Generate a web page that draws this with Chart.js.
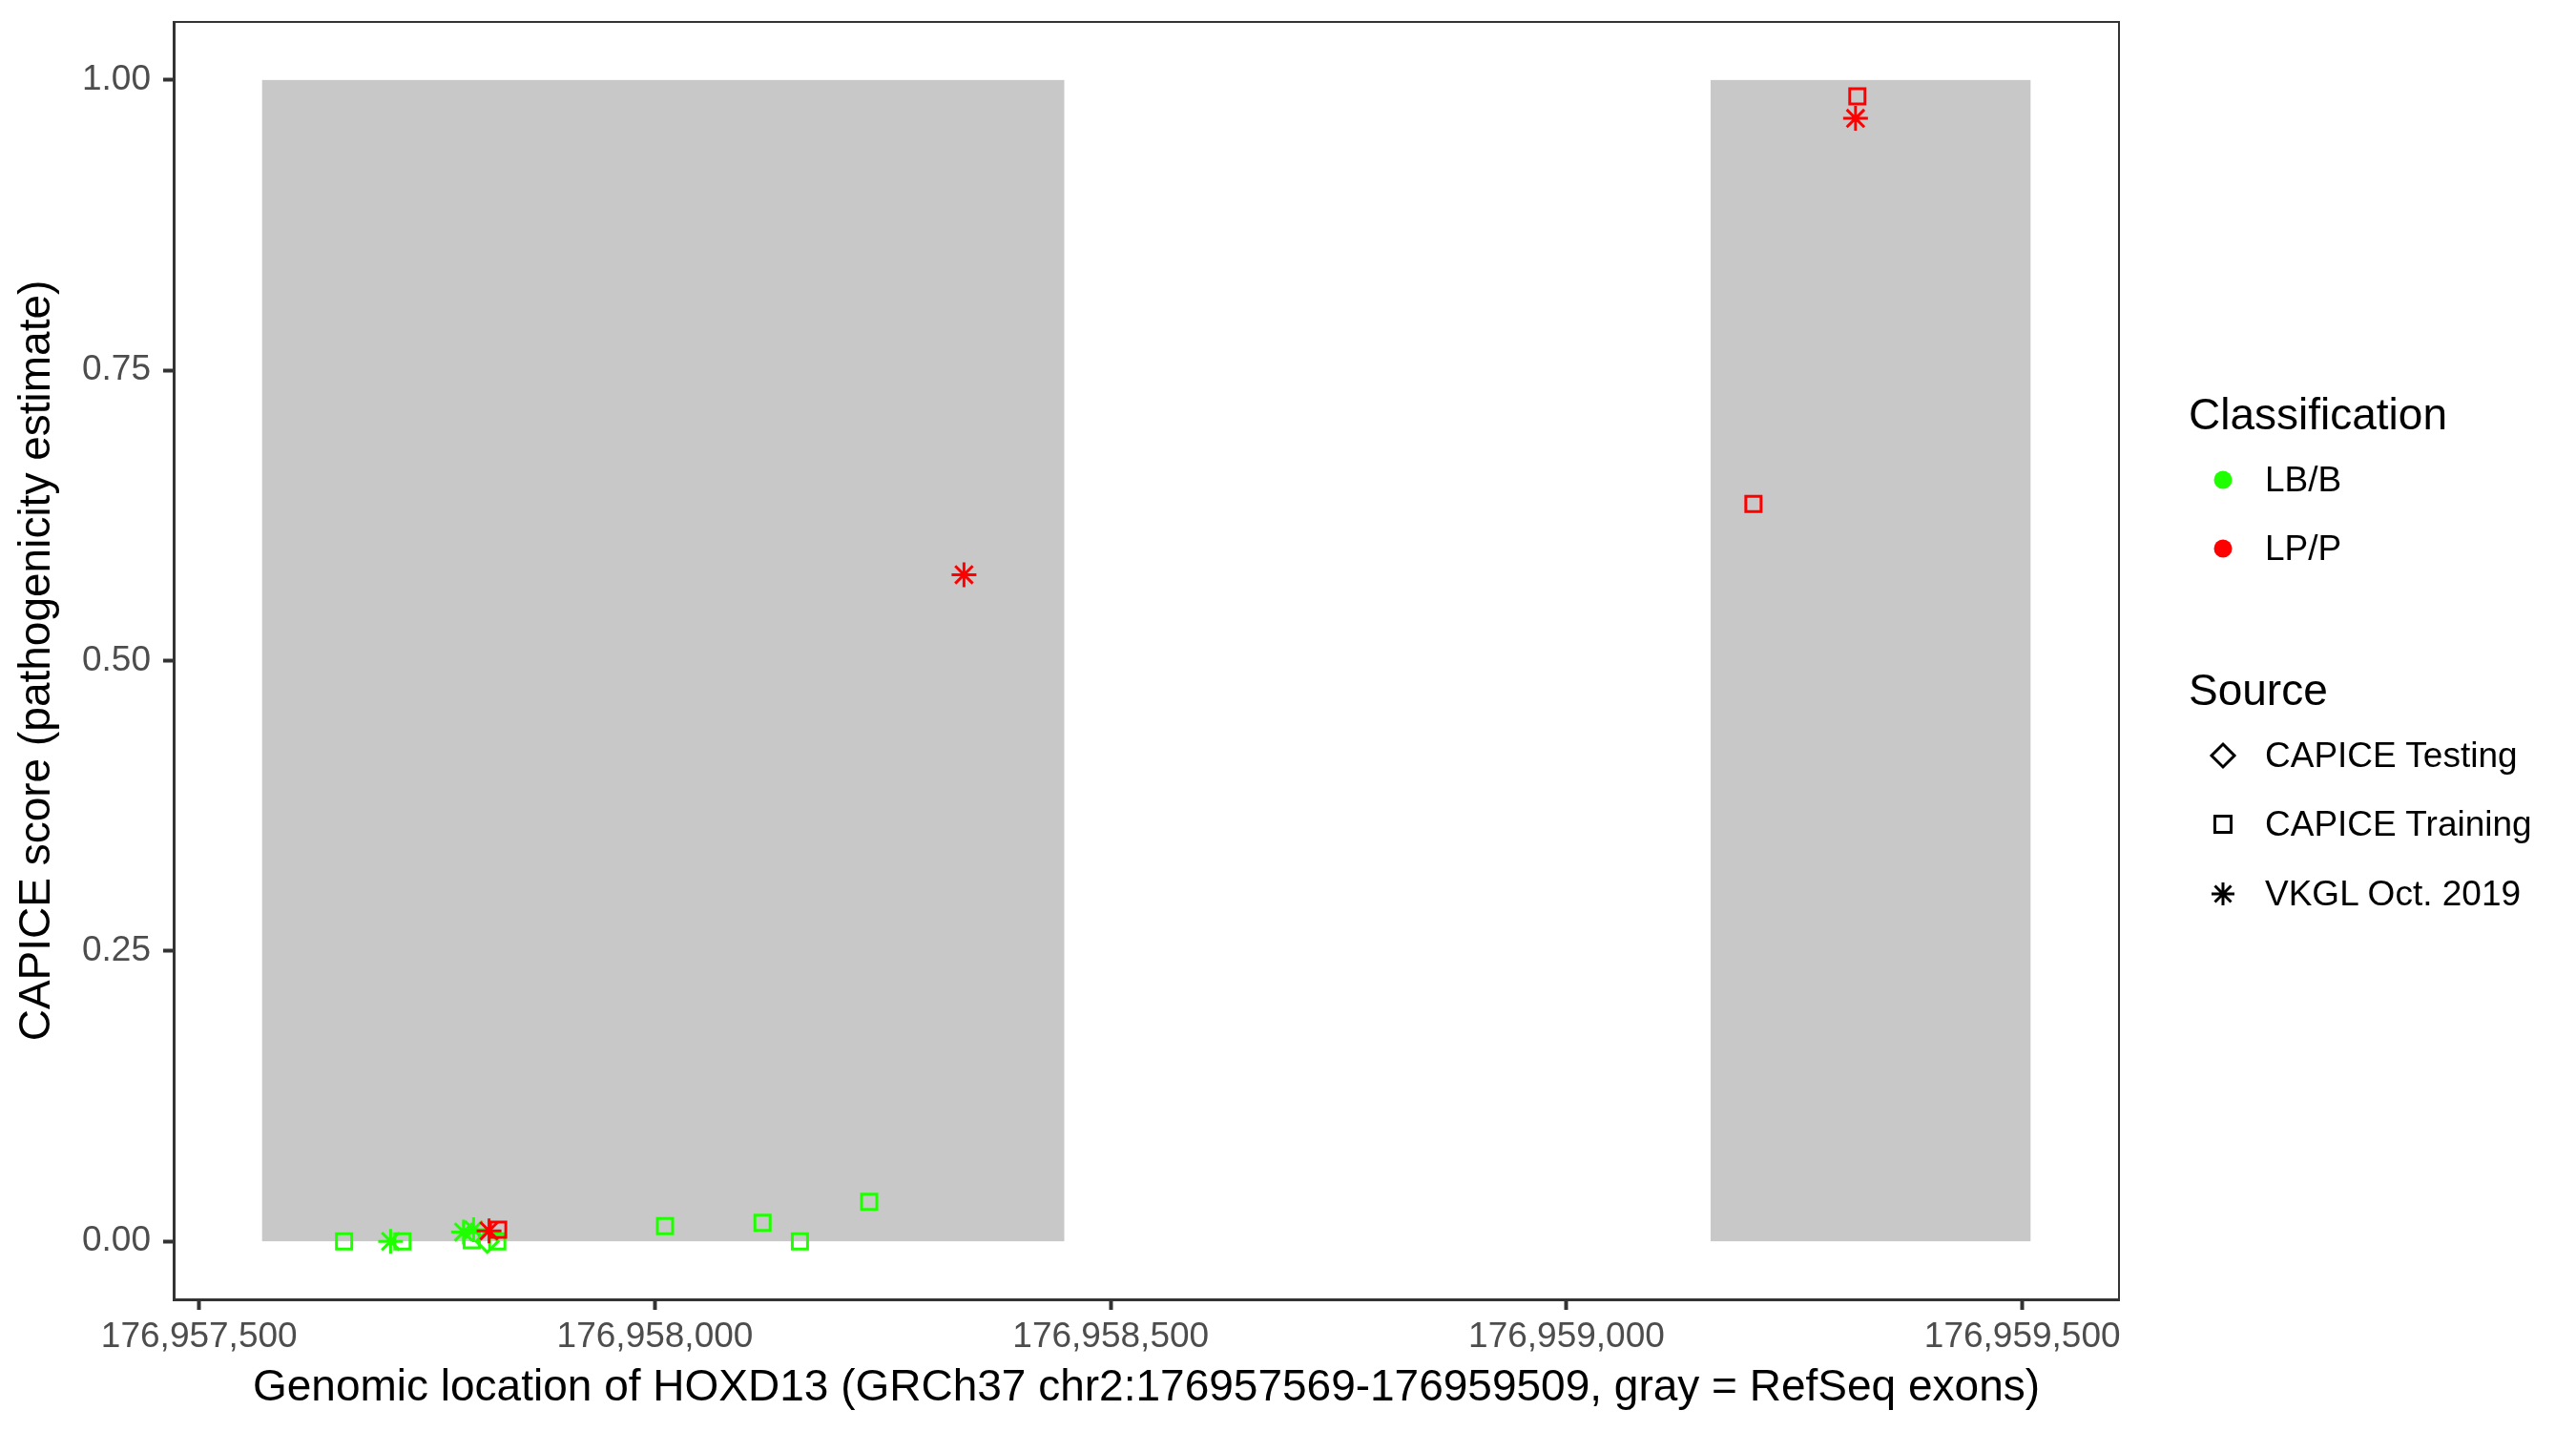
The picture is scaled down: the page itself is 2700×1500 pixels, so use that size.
<!DOCTYPE html>
<html>
<head>
<meta charset="utf-8">
<script src="https://cdn.jsdelivr.net/npm/chart.js@4/dist/chart.umd.min.js"></script>
<style>
  body { margin: 0; background: #fff; }
  #wrap { position: relative; width: 2700px; height: 1500px; font-family: "Liberation Sans", Arial, sans-serif; }
  .lg { position: absolute; left: 2294px; white-space: nowrap; color: #000; }
  .lg.title { font-size: 46px; height: 60px; line-height: 60px; }
  .lg.item { font-size: 37px; height: 60px; line-height: 60px; left: 2300px; }
  .lg.item svg { position: absolute; left: 0; top: 0; }
  .lg.item span { position: absolute; left: 74px; }
</style>
</head>
<body>
<div id="wrap">
  <canvas id="grafico" width="2700" height="1500"></canvas>
  <div class="lg title" style="top:404px">Classification</div>
  <div class="lg item" style="top:473px"><svg width="60" height="60"><circle cx="30" cy="30" r="9.5" fill="#1FFF00"/></svg><span>LB/B</span></div>
  <div class="lg item" style="top:545px"><svg width="60" height="60"><circle cx="30" cy="30" r="9.5" fill="#FF0000"/></svg><span>LP/P</span></div>
  <div class="lg title" style="top:693px">Source</div>
  <div class="lg item" style="top:762px"><svg width="60" height="60"><path d="M30 18 L42 30 L30 42 L18 30 Z" fill="none" stroke="#000" stroke-width="3"/></svg><span>CAPICE Testing</span></div>
  <div class="lg item" style="top:834px"><svg width="60" height="60"><rect x="21.5" y="21.5" width="17" height="17" fill="none" stroke="#000" stroke-width="3"/></svg><span>CAPICE Training</span></div>
  <div class="lg item" style="top:907px"><svg width="60" height="60"><path d="M30 18 V42 M18 30 H42 M21.5 21.5 L38.5 38.5 M38.5 21.5 L21.5 38.5" stroke="#000" stroke-width="3"/></svg><span>VKGL Oct. 2019</span></div>
</div>
<script>
// exons (RefSeq) drawn as gray blocks
const exonStart = [176957569, 176959158];
const exonEnd = [176958449, 176959509];

// LB/B variants
const lbTrainX = [176957659, 176957723, 176957799, 176957827, 176958011, 176958118, 176958159, 176958235];
const lbTrainY = [0.000, 0.000, 0.001, 0.000, 0.013, 0.016, 0.000, 0.034];
const lbVkglX = [176957710, 176957790, 176957801];
const lbVkglY = [0.000, 0.008, 0.010];
const lbTestX = [176957816];
const lbTestY = [0.000];

// LP/P variants
const lpTrainX = [176957828, 176959205, 176959319];
const lpTrainY = [0.010, 0.635, 0.986];
const lpVkglX = [176957818, 176958339, 176959317];
const lpVkglY = [0.009, 0.574, 0.967];

const xTicks = [176957500, 176958000, 176958500, 176959000, 176959500];
const yTicks = [0, 0.25, 0.5, 0.75, 1];

const green = '#1FFF00';
const red = '#FF0000';

function pts(xs, ys) {
  return xs.map((x, i) => ({ x: x, y: ys[i] }));
}

function serie(label, xs, ys, color, style, radius) {
  return {
    label: label,
    data: pts(xs, ys),
    pointStyle: style,
    pointRadius: radius,
    pointBorderWidth: 3,
    borderColor: color,
    backgroundColor: 'rgba(0,0,0,0)',
    showLine: false
  };
}

const exonPlugin = {
  id: 'exons',
  beforeDatasetsDraw(chart) {
    const ctx = chart.ctx;
    const x = chart.scales.x, y = chart.scales.y;
    ctx.save();
    ctx.fillStyle = '#C8C8C8';
    exonStart.forEach((s, i) => {
      const x0 = x.getPixelForValue(s), x1 = x.getPixelForValue(exonEnd[i]);
      const y0 = y.getPixelForValue(1), y1 = y.getPixelForValue(0);
      ctx.fillRect(x0, y0, x1 - x0, y1 - y0);
    });
    ctx.restore();
  },
  afterDraw(chart) {
    const a = chart.chartArea, ctx = chart.ctx;
    ctx.save();
    ctx.strokeStyle = '#333333';
    ctx.lineWidth = 2;
    ctx.strokeRect(a.left, a.top, a.right - a.left, a.bottom - a.top);
    ctx.restore();
  }
};

const ctx = document.getElementById('grafico').getContext('2d');
new Chart(ctx, {
  type: 'scatter',
  data: {
    datasets: [
      serie('LP/P VKGL', lpVkglX, lpVkglY, red, 'star', 13),
      serie('LP/P Training', lpTrainX, lpTrainY, red, 'rect', 11.3),
      serie('LB/B Testing', lbTestX, lbTestY, green, 'rectRot', 11.5),
      serie('LB/B VKGL', lbVkglX, lbVkglY, green, 'star', 13),
      serie('LB/B Training', lbTrainX, lbTrainY, green, 'rect', 11.3)
    ]
  },
  options: {
    responsive: false,
    animation: false,
    layout: { padding: { left: 0, right: 479, top: 23, bottom: 0 } },
    plugins: { legend: { display: false }, tooltip: { enabled: false } },
    scales: {
      x: {
        type: 'linear',
        min: 176957472,
        max: 176959606,
        afterBuildTicks: axis => { axis.ticks = xTicks.map(v => ({ value: v })); },
        afterFit: axis => { axis.height = 138; axis.paddingLeft = 0; axis.paddingRight = 0; },
        grid: { drawOnChartArea: false, tickLength: 11, tickWidth: 4, tickColor: '#333333' },
        border: { display: true, color: '#333333', width: 3 },
        ticks: {
          font: { family: 'Liberation Sans', size: 37 },
          color: '#4D4D4D',
          padding: 7,
          maxRotation: 0,
          callback: v => v.toLocaleString('en-US')
        },
        title: {
          display: true,
          text: 'Genomic location of HOXD13 (GRCh37 chr2:176957569-176959509, gray = RefSeq exons)',
          font: { family: 'Liberation Sans', size: 46 },
          color: '#000',
          padding: { top: 0, bottom: 17 }
        }
      },
      y: {
        min: -0.05,
        max: 1.05,
        afterBuildTicks: axis => { axis.ticks = yTicks.map(v => ({ value: v })); },
        afterFit: axis => { axis.width = 182; axis.paddingTop = 0; axis.paddingBottom = 0; },
        grid: { drawOnChartArea: false, tickLength: 11, tickWidth: 4, tickColor: '#333333' },
        border: { display: true, color: '#333333', width: 3 },
        ticks: {
          font: { family: 'Liberation Sans', size: 37 },
          color: '#4D4D4D',
          padding: 13,
          callback: v => v.toFixed(2)
        },
        title: {
          display: true,
          text: 'CAPICE score (pathogenicity estimate)',
          font: { family: 'Liberation Sans', size: 46 },
          color: '#000',
          padding: { top: 12, bottom: 0 }
        }
      }
    }
  },
  plugins: [exonPlugin]
});
</script>
</body>
</html>
